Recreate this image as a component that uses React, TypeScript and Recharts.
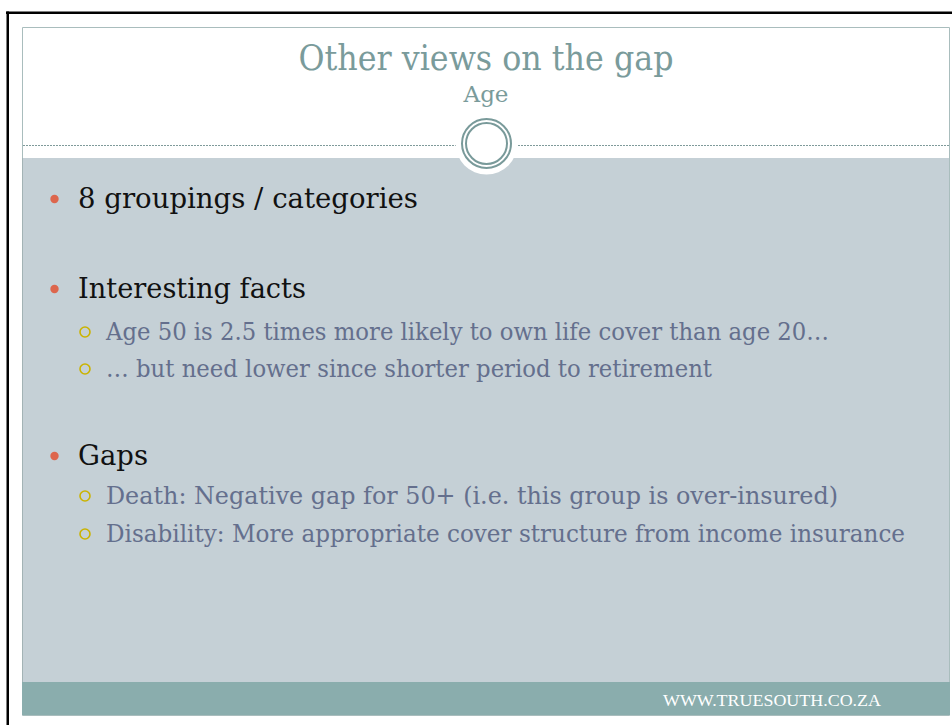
import { Surface, Layer, Rectangle, Dot } from "recharts";

const TITLE = "Other views on the gap";
const SUBTITLE = "Age";
const FOOTER = "WWW.TRUESOUTH.CO.ZA";

const POINTS = ["8 groupings / categories", "Interesting facts", "Gaps"];
const FACTS = [
  "Age 50 is 2.5 times more likely to own life cover than age 20…",
  "… but need lower since shorter period to retirement",
];
const GAPS = [
  "Death: Negative gap for 50+ (i.e. this group is over-insured)",
  "Disability: More appropriate cover structure from income insurance",
];

// slide layout (baselines and measured widths of each line)
const LINE_Y = [208, 298, 340, 377, 465, 504, 542];
const LINE_W = [340, 228, 723, 606, 70, 732, 799];

const W = 952;
const H = 725;
const SERIF = "DejaVu Serif, serif";
const FOOT_FONT = "Liberation Serif, serif";

export default function App() {
  const lines = [
    { level: 1, text: POINTS[0] },
    { level: 1, text: POINTS[1] },
    ...FACTS.map((t) => ({ level: 2, text: t })),
    { level: 1, text: POINTS[2] },
    ...GAPS.map((t) => ({ level: 2, text: t })),
  ];

  return (
    <div style={{ position: "absolute", left: 0, top: 0, width: W, height: H, background: "#fff" }}>
      <Surface width={W} height={H}>
        {/* outer black frame */}
        <Rectangle x={6} y={11.5} width={W - 6} height={2.5} fill="#000" />
        <Rectangle x={6.5} y={11.5} width={2.5} height={H - 11.5} fill="#000" />

        {/* slide */}
        <Rectangle x={22.5} y={27.5} width={927} height={688} fill="#fff" stroke="#a9bdbd" strokeWidth={1} />
        <Rectangle x={23} y={158} width={926} height={524} fill="#c5d0d6" />
        <Rectangle x={22} y={682} width={928} height={33} fill="#8aadad" />
        <line x1={22.5} y1={158} x2={22.5} y2={682} stroke="#a3b3b5" strokeWidth={1} />

        {/* dotted rule + circle ornament */}
        <line x1={23} y1={145.5} x2={949} y2={145.5} stroke="#7f9a9a" strokeWidth={1} strokeDasharray="2 1" />
        <Dot cx={486.5} cy={143.5} r={31} fill="#fff" />
        <Dot cx={486.5} cy={143.5} r={24.5} fill="#fff" stroke="#799a9a" strokeWidth={2} />
        <Dot cx={486.5} cy={143.5} r={20.5} fill="none" stroke="#799a9a" strokeWidth={2} />

        {/* title */}
        <text
          x={486}
          y={70}
          textAnchor="middle"
          fontFamily={SERIF}
          fontSize={36}
          fill="#7a9b9b"
          textLength={375}
          lengthAdjust="spacingAndGlyphs"
        >
          {TITLE}
        </text>
        <text
          x={486}
          y={102}
          textAnchor="middle"
          fontFamily={SERIF}
          fontSize={23}
          fill="#7a9b9b"
          textLength={45}
          lengthAdjust="spacingAndGlyphs"
        >
          {SUBTITLE}
        </text>

        {/* bullets */}
        <Layer>
          {lines.map((ln, i) => {
            const y = LINE_Y[i];
            const top = ln.level === 1;
            return (
              <g key={i}>
                {top ? (
                  <Dot cx={54.5} cy={y - 9} r={4.2} fill="#dd664d" />
                ) : (
                  <Dot cx={85} cy={y - 8} r={5} fill="none" stroke="#cbb300" strokeWidth={1.6} />
                )}
                <text
                  x={top ? 78 : 106}
                  y={y}
                  fontFamily={SERIF}
                  fontSize={top ? 27.5 : 23.5}
                  fill={top ? "#111111" : "#646f8d"}
                  textLength={LINE_W[i]}
                  lengthAdjust="spacingAndGlyphs"
                >
                  {ln.text}
                </text>
              </g>
            );
          })}
        </Layer>

        {/* footer */}
        <text
          x={663}
          y={706}
          fontFamily={FOOT_FONT}
          fontSize={17}
          fill="#ffffff"
          textLength={218}
          lengthAdjust="spacingAndGlyphs"
        >
          {FOOTER}
        </text>
      </Surface>
    </div>
  );
}
